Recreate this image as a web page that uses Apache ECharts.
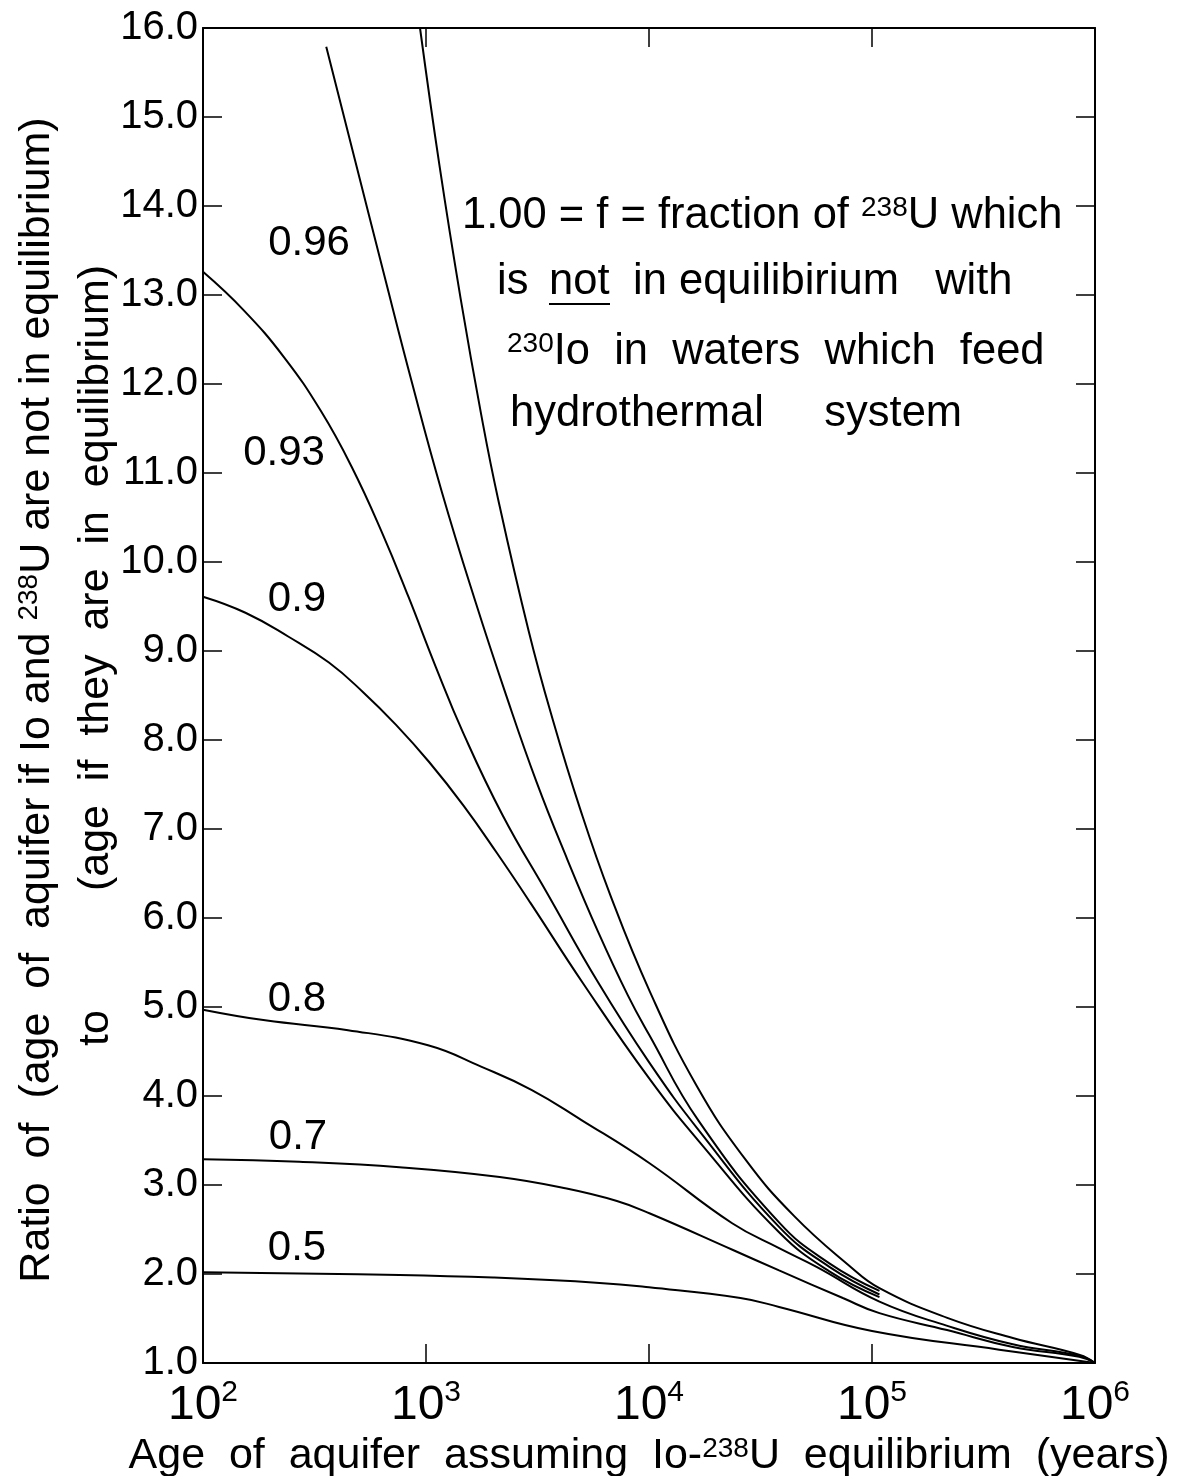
<!DOCTYPE html>
<html>
<head>
<meta charset="utf-8">
<title>Age ratio vs age of aquifer</title>
<script src="https://cdn.jsdelivr.net/npm/echarts@6/dist/echarts.min.js"></script>
<style>
  html, body { margin: 0; padding: 0; background: #fff; }
  #chart { width: 1179px; height: 1476px; }
</style>
</head>
<body>
<div id="chart"></div>
<script>
// age of aquifer (years) and ratio of ages for each f
const age100 = [940, 1150, 1430, 1770, 2100, 2890, 3720, 4890, 6700, 10100, 16400, 27000, 44800, 79300, 108000, 216000, 428000, 855000, 1000000];
const ratio100 = [16.0, 14.45, 12.96, 11.65, 10.72, 9.22, 8.21, 7.24, 6.26, 5.17, 4.11, 3.29, 2.65, 2.09, 1.84, 1.51, 1.28, 1.09, 1.0];

const age96 = [357, 480, 644, 866, 1177, 1668, 2283, 3130, 4300, 5900, 8040, 10000, 16700, 38300, 64400, 108000];
const ratio96 = [15.79, 14.52, 13.26, 12.01, 10.79, 9.55, 8.51, 7.53, 6.66, 5.85, 5.13, 4.69, 3.72, 2.58, 2.12, 1.81];

const age93 = [100, 152, 231, 339, 464, 635, 834, 1107, 1468, 2200, 3490, 5900, 10000, 16900, 38300, 64400, 108000];
const ratio93 = [13.26, 12.83, 12.30, 11.69, 11.07, 10.33, 9.61, 8.82, 8.08, 7.16, 6.28, 5.28, 4.38, 3.60, 2.53, 2.08, 1.77];

const age90 = [100, 155, 242, 367, 521, 734, 1035, 1476, 2080, 2940, 5050, 10000, 16900, 38300, 64400, 108000];
const ratio90 = [9.61, 9.43, 9.16, 8.87, 8.54, 8.17, 7.75, 7.26, 6.73, 6.17, 5.27, 4.20, 3.48, 2.47, 2.03, 1.74];

const age80 = [100, 190, 447, 1021, 1766, 2970, 4980, 9980, 23600, 38300, 56400, 108000, 216000, 428000, 855000, 1000000];
const ratio80 = [4.97, 4.85, 4.74, 4.57, 4.33, 4.07, 3.73, 3.25, 2.57, 2.29, 2.08, 1.69, 1.42, 1.21, 1.08, 1.0];

const age70 = [100, 270, 760, 2140, 4270, 7180, 10100, 23800, 38300, 74000, 108000, 217000, 428000, 850000, 1000000];
const ratio70 = [3.29, 3.26, 3.20, 3.09, 2.96, 2.82, 2.68, 2.27, 2.04, 1.73, 1.56, 1.37, 1.18, 1.07, 1.0];

const age50 = [100, 760, 2000, 6000, 10000, 25700, 38300, 100000, 372000, 1000000];
const ratio50 = [2.02, 1.99, 1.96, 1.90, 1.85, 1.73, 1.63, 1.36, 1.15, 1.0];

const fLabels = ['1.00', '0.96', '0.93', '0.9', '0.8', '0.7', '0.5'];
const curves = [
    [age100, ratio100], [age96, ratio96], [age93, ratio93], [age90, ratio90],
    [age80, ratio80], [age70, ratio70], [age50, ratio50]
];

const FONT = "'Liberation Sans', Arial, sans-serif";
const chart = echarts.init(document.getElementById('chart'));

const axisLine = { show: true, onZero: false, lineStyle: { color: '#000', width: 2 } };
const tick = { show: true, inside: true, length: 19, lineStyle: { color: '#000', width: 1.5 } };

// text placed on the figure (curve names, note, axis title)
const supG = { fontSize: 28, fontFamily: FONT, fill: '#000', verticalAlign: 'top', lineHeight: 28 };
const txt = (x, y, text, extra, rot) => ({
    type: 'text', x: x, y: y, rotation: rot || 0, silent: true,
    style: Object.assign({
        text: text, fill: '#000', fontSize: 42, fontFamily: FONT,
        align: 'left', verticalAlign: 'middle', rich: { s: supG }
    }, extra || {})
});
const NOTE = { fontSize: 43.5 };

const option = {
    animation: false,
    backgroundColor: '#fff',
    grid: { left: 203, right: 84, top: 28, bottom: 113, containLabel: false, outerBoundsMode: 'none' },
    xAxis: [
        {
            type: 'log', logBase: 10, min: 100, max: 1000000, position: 'bottom',
            axisLine: axisLine, axisTick: tick, splitLine: { show: false },
            minorTick: { show: false },
            axisLabel: {
                margin: 15,
                formatter: v => '{b|10}{s|' + Math.round(Math.log10(v)) + '}',
                rich: {
                    b: { fontSize: 48, fontFamily: FONT, color: '#000', lineHeight: 56 },
                    s: { fontSize: 30, fontFamily: FONT, color: '#000', verticalAlign: 'top', lineHeight: 30 }
                }
            },
            name: 'Age  of  aquifer  assuming  Io-{s|238}U  equilibrium  (years)',
            nameLocation: 'middle', nameGap: 54,
            nameTextStyle: {
                fontSize: 43, fontFamily: FONT, color: '#000',
                rich: { s: { fontSize: 28, fontFamily: FONT, color: '#000', verticalAlign: 'top', lineHeight: 28 } }
            }
        },
        {
            type: 'log', logBase: 10, min: 100, max: 1000000, position: 'top',
            axisLine: axisLine, axisTick: tick, axisLabel: { show: false },
            splitLine: { show: false }, minorTick: { show: false }
        }
    ],
    yAxis: [
        {
            type: 'value', min: 1, max: 16, interval: 1, position: 'left',
            axisLine: axisLine, axisTick: tick, splitLine: { show: false },
            axisLabel: {
                margin: 5, fontSize: 40, fontFamily: FONT, color: '#000',
                formatter: v => v.toFixed(1)
            }
        },
        {
            type: 'value', min: 1, max: 16, interval: 1, position: 'right',
            axisLine: axisLine, axisTick: tick, axisLabel: { show: false },
            splitLine: { show: false }
        }
    ],
    series: curves.map((c, i) => ({
        name: fLabels[i],
        type: 'line',
        data: c[0].map((a, j) => [a, c[1][j]]),
        showSymbol: false,
        smooth: 0.45,
        silent: true,
        lineStyle: { color: '#000', width: 2 }
    })),
    graphic: [
        // y axis title, two lines
        txt(37, 700, 'Ratio  of  (age  of  aquifer if Io and {s|238}U are not in equilibrium)',
            { align: 'center', fontSize: 43 }, Math.PI / 2),
        txt(96, 1028, 'to', { align: 'center', fontSize: 43 }, Math.PI / 2),
        txt(96, 578, '(age  if  they  are  in  equilibrium)',
            { align: 'center', fontSize: 43 }, Math.PI / 2),
        // curve names
        txt(309, 243, '0.96', { align: 'center' }),
        txt(284, 453, '0.93', { align: 'center' }),
        txt(297, 599, '0.9', { align: 'center' }),
        txt(297, 999, '0.8', { align: 'center' }),
        txt(298, 1137, '0.7', { align: 'center' }),
        txt(297, 1248, '0.5', { align: 'center' }),
        // note
        txt(462, 216, '1.00 = f = fraction of {s|238}U which', NOTE),
        txt(497, 282, 'is', NOTE),
        txt(549, 282, 'not', NOTE),
        txt(633, 282, 'in equilibirium   with', NOTE),
        { type: 'line', silent: true, shape: { x1: 549, y1: 304, x2: 610, y2: 304 }, style: { stroke: '#000', lineWidth: 2 } },
        txt(507, 352, '{s|230}Io  in  waters  which  feed', NOTE),
        txt(510, 414, 'hydrothermal     system', NOTE)
    ]
};

chart.setOption(option);
</script>
</body>
</html>
